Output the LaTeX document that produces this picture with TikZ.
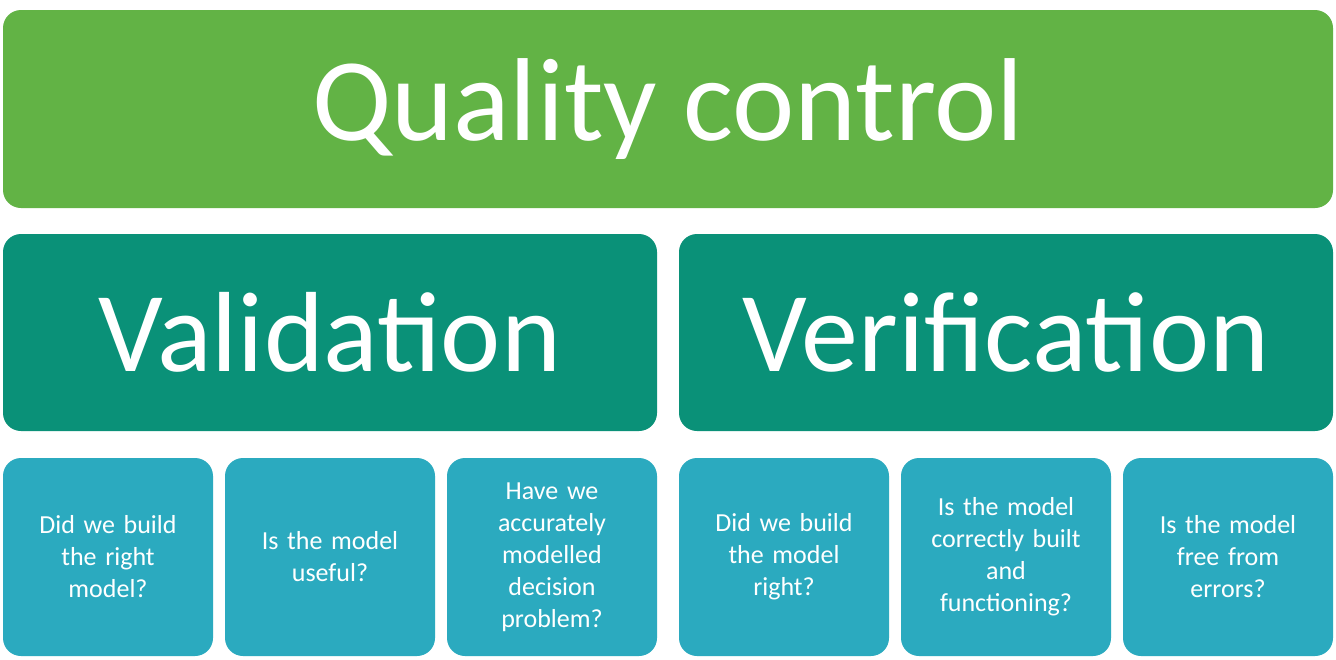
\documentclass[tikz,border=0pt]{standalone}
\usepackage{fontspec}
\setmainfont{Carlito}
\definecolor{qc}{HTML}{62B345}
\definecolor{vv}{HTML}{0A9178}
\definecolor{sq}{HTML}{2BAABF}
\begin{document}
\begin{tikzpicture}[x=1pt,y=-1pt,
  box/.style={rounded corners=18pt,inner sep=0pt,text=white,align=center},
  small/.style={box,fill=sq,minimum width=210pt,minimum height=198pt,text width=190pt,font=\fontsize{26}{32}\selectfont}]
\useasboundingbox[fill=white] (0,0) rectangle (1336,659);
\node[box,fill=qc,minimum width=1330pt,minimum height=198pt,font=\fontsize{118}{120}\selectfont] (q) at (668,109) {Quality control};
\node[box,fill=vv,minimum width=654pt,minimum height=197pt,font=\fontsize{114}{116}\selectfont] (va) at (330,332.5) {Validation};
\node[box,fill=vv,minimum width=654pt,minimum height=197pt,font=\fontsize{114}{116}\selectfont] (ve) at (1006,332.5) {Verification};
\node[small] (s1) at (108,557) {Did we build\\the right\\model?};
\node[small] (s2) at (330,557) {Is the model\\useful?};
\node[small] (s3) at (552,557) {Have we\\accurately\\modelled\\decision\\problem?};
\node[small] (s4) at (784,557) {Did we build\\the model\\right?};
\node[small] (s5) at (1006,557) {Is the model\\correctly built\\and\\functioning?};
\node[small] (s6) at (1228,557) {Is the model\\free from\\errors?};
\end{tikzpicture}
\end{document}
